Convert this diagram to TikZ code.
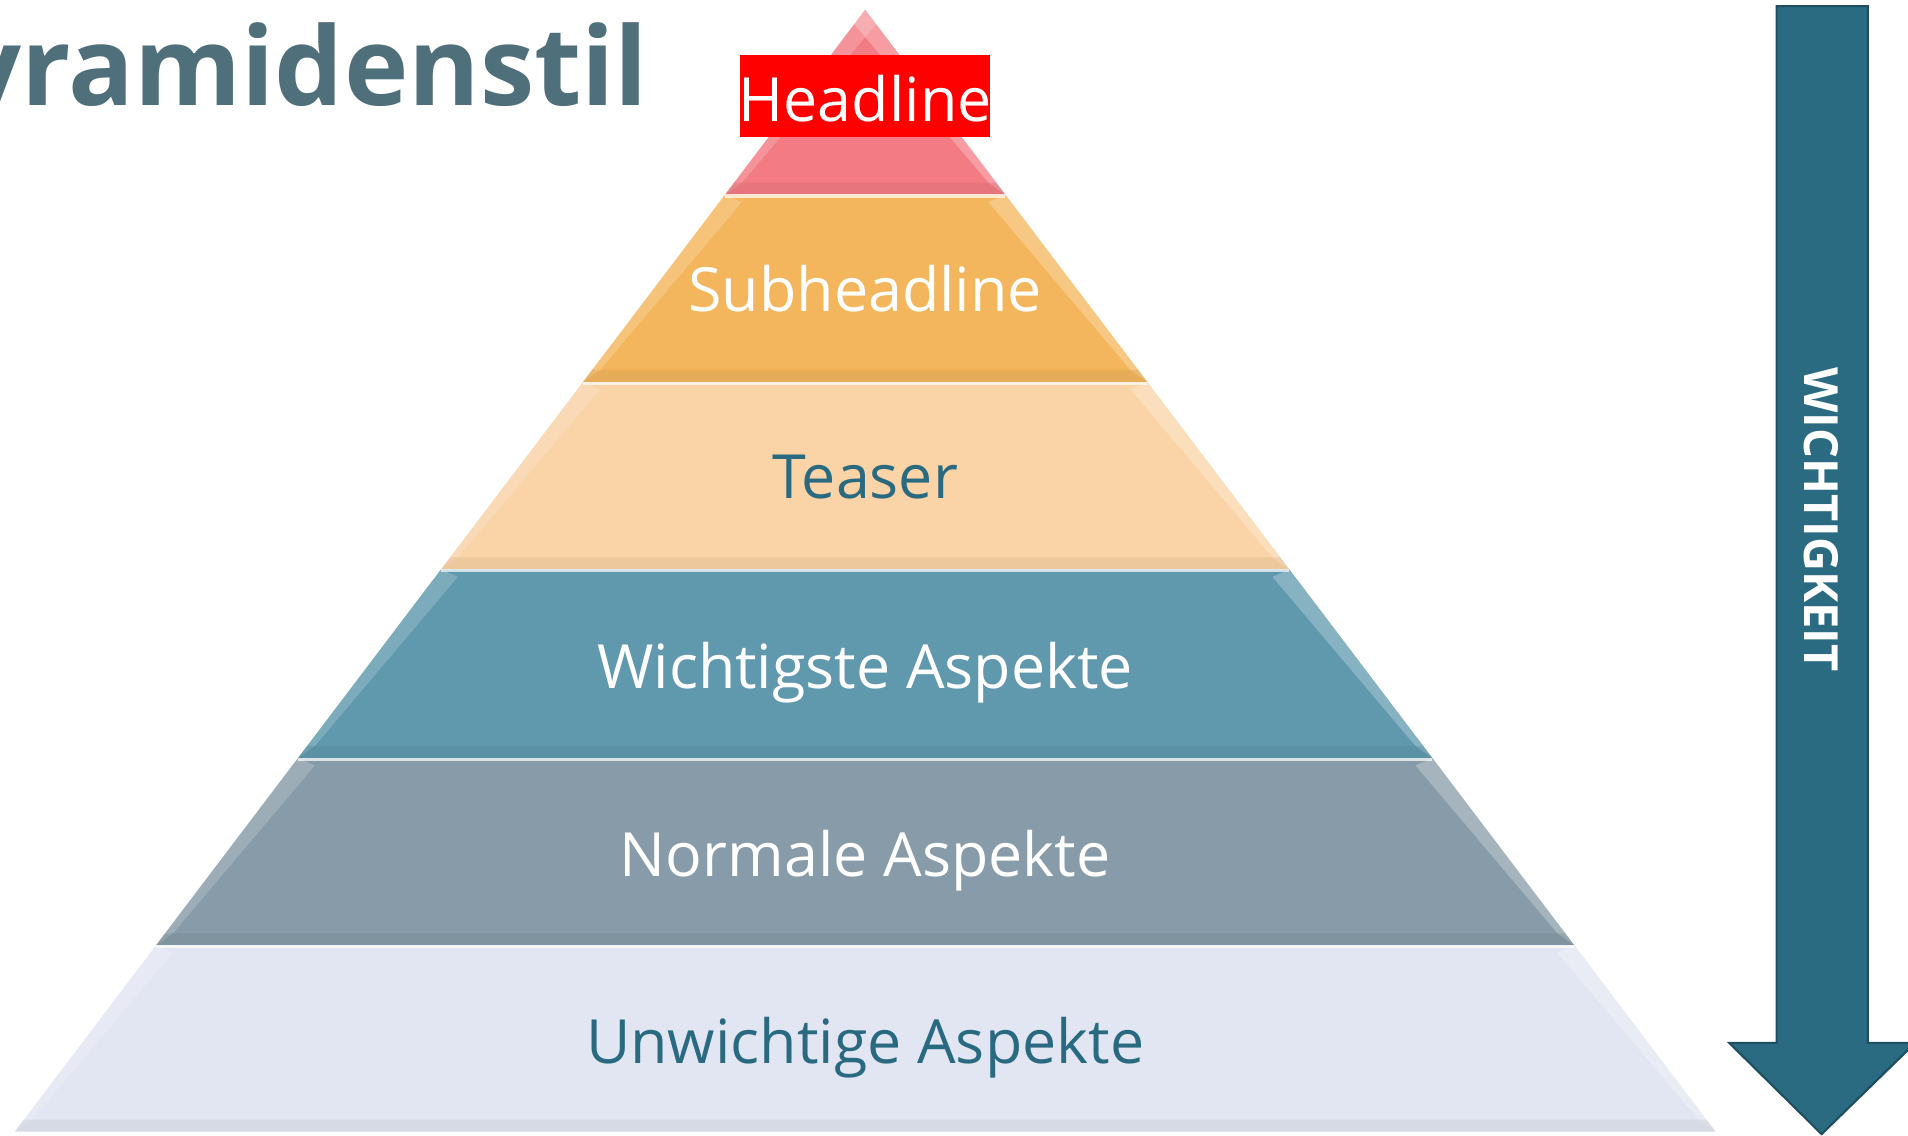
\documentclass[tikz,border=0pt]{standalone}
\usepackage{fontspec}
\setmainfont{Open Sans}
\usepackage{xcolor}
\usepackage{tikz}
\usetikzlibrary{calc}

\definecolor{layA}{RGB}{243,124,132}
\definecolor{layB}{RGB}{244,182,92}
\definecolor{layC}{RGB}{250,211,166}
\definecolor{layD}{RGB}{96,153,174}
\definecolor{layE}{RGB}{135,156,168}
\definecolor{layF}{RGB}{226,230,242}
\definecolor{headred}{RGB}{255,0,0}
\definecolor{tealtext}{RGB}{42,106,128}
\definecolor{arrowfill}{RGB}{43,107,130}
\definecolor{arrowline}{RGB}{30,78,96}
\definecolor{titlecol}{RGB}{79,111,123}

\begin{document}
\begin{tikzpicture}[
    x=0.02cm, y=-0.02cm,
    lab/.style={anchor=base, inner sep=0pt, font=\fontsize{28.5}{32}\selectfont},
    hbox/.style={rectangle, fill=headred, inner sep=0pt, minimum width=4.12cm, minimum height=1.36cm},
    titletext/.style={anchor=base east, inner sep=0pt, text=titlecol, font=\fontsize{51}{56}\selectfont\bfseries},
    arrowlab/.style={rotate=-90, inner sep=0pt, text=white, font=\fontsize{22}{26}\selectfont\bfseries}
]
    \useasboundingbox (0,0) rectangle (1568,933);
    \clip (0,0) rectangle (1568,933);

    % pyramid layers
    \foreach \ya/\yb/\lcol in {8/160/layA, 160/314/layB, 314/468/layC, 468/623/layD, 623/777/layE, 777/930/layF}{
        \pgfmathsetmacro{\wa}{0.758*(\ya-8)}
        \pgfmathsetmacro{\wb}{0.758*(\yb-8)}
        \pgfmathsetmacro{\wc}{0.758*(\yb-18)}
        \fill[\lcol] ({711-\wa},\ya) -- ({711+\wa},\ya) -- ({711+\wb},\yb) -- ({711-\wb},\yb) -- cycle;
        % bevels
        \fill[white, opacity=.18] ({711-\wa},\ya) -- ({711-\wa+14},\ya+6) -- ({711-\wb+14},\yb-10) -- ({711-\wb},\yb) -- cycle;
        \fill[white, opacity=.25] ({711+\wa},\ya) -- ({711+\wa-14},\ya+6) -- ({711+\wb-14},\yb-10) -- ({711+\wb},\yb) -- cycle;
        \fill[\lcol!80!black, opacity=.25] ({711-\wc},\yb-10) -- ({711+\wc},\yb-10) -- ({711+\wb},\yb) -- ({711-\wb},\yb) -- cycle;
        \draw[white, opacity=.7, line width=1.5pt] ({711-\wa},\ya+1) -- ({711+\wa},\ya+1);
    }

    % labels
    \node[hbox] (hlbox) at (711,79) {};
    \node[lab, text=white] (headline) at (711,100) {Headline};
    \node[lab, text=white] (subheadline) at (711,256) {Subheadline};
    \node[lab, text=tealtext] (teaser) at (711,410) {Teaser};
    \node[lab, text=white] (wichtigste) at (711,566) {Wichtigste Aspekte};
    \node[lab, text=white] (normale) at (711,720) {Normale Aspekte};
    \node[lab, text=tealtext] (unwichtige) at (711,874) {Unwichtige Aspekte};

    % title
    \node[titletext] (title) at (533,87) {Pyramidenstil};

    % importance arrow
    \filldraw[fill=arrowfill, draw=arrowline, line width=1pt] (1460,5) -- (1535,5) -- (1535,857) -- (1574,857) -- (1497,932) -- (1421,857) -- (1460,857) -- cycle;
    \node[arrowlab] (wlabel) at (1497,427) {WICHTIGKEIT};
\end{tikzpicture}
\end{document}
